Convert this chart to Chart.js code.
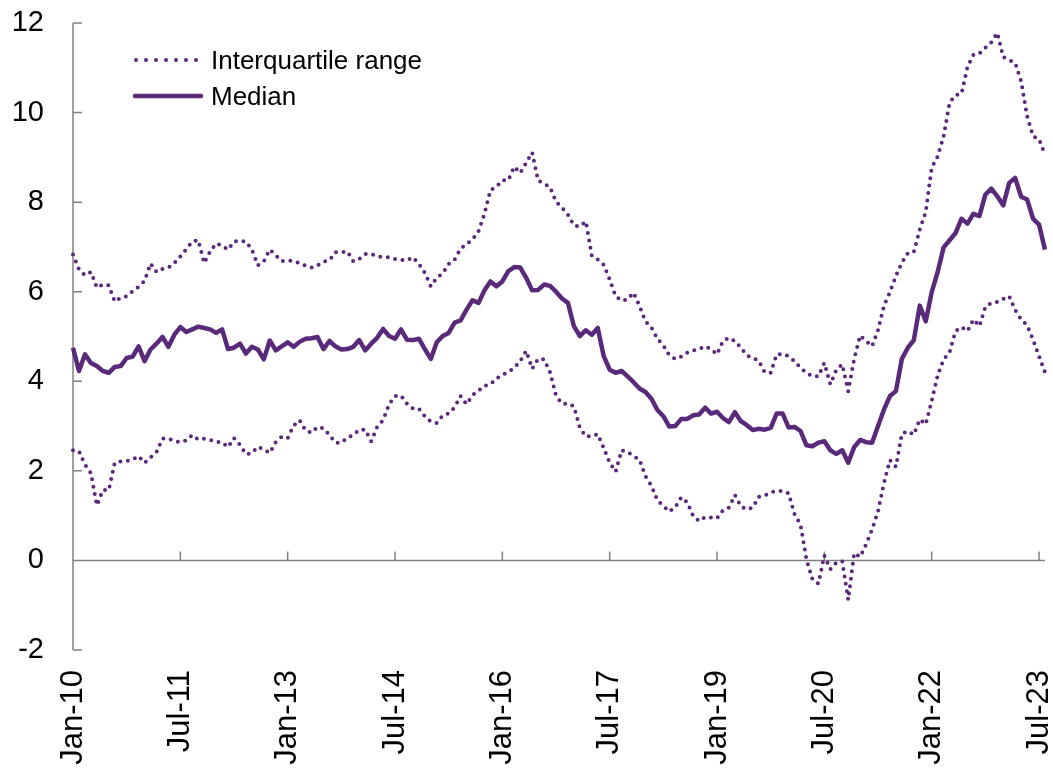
<!DOCTYPE html>
<html>
<head>
<meta charset="utf-8">
<script src="https://cdn.jsdelivr.net/npm/chart.js@4.4.0/dist/chart.umd.min.js"></script>
<style>
  html, body { margin: 0; padding: 0; background: #fff; }
  #wrap { position: relative; width: 1053px; height: 768px; }
  .legend-item {
    position: absolute; left: 133px; height: 36px;
    display: flex; align-items: center;
    font-family: 'Liberation Sans', Arial, sans-serif; font-size: 26px; color: #000;
  }
  .legend-item svg { width: 70px; height: 10px; margin-right: 8px; }
</style>
</head>
<body>
<div id="wrap">
  <canvas id="grafico" width="1053" height="768"></canvas>
  <div class="legend-item" style="top:42px">
    <svg viewBox="0 0 70 10"><line x1="3" y1="5" x2="64" y2="5" stroke="#5a2a7a" stroke-width="4" stroke-linecap="round" stroke-dasharray="0 10"/></svg>
    <span>Interquartile range</span>
  </div>
  <div class="legend-item" style="top:78px">
    <svg viewBox="0 0 70 10"><line x1="2" y1="5" x2="68" y2="5" stroke="#5a2a7a" stroke-width="4.5" stroke-linecap="round"/></svg>
    <span>Median</span>
  </div>
</div>
<script>
// meses de Jan-10 a Aug-23
const nomesMeses = ['Jan', 'Feb', 'Mar', 'Apr', 'May', 'Jun', 'Jul', 'Aug', 'Sep', 'Oct', 'Nov', 'Dec'];
const anos = ['10', '11', '12', '13', '14', '15', '16', '17', '18', '19', '20', '21', '22', '23'];
const meses = [];
anos.forEach(a => nomesMeses.forEach(m => meses.push(m + '-' + a)));
meses.length = 164;

const yTicks = [-2, 0, 2, 4, 6, 8, 10, 12];

const quartilSuperior = [
  6.83, 6.50, 6.37, 6.44, 6.09, 6.16, 6.14, 5.78, 5.86, 5.90, 6.01, 6.11, 6.24, 6.63, 6.44, 6.51, 6.54, 6.64, 6.79, 6.95,
  7.12, 7.15, 6.64, 6.90, 7.08, 7.03, 6.94, 7.12, 7.14, 7.12, 6.94, 6.59, 6.68, 6.94, 6.81, 6.68, 6.70, 6.68, 6.64, 6.58,
  6.54, 6.59, 6.67, 6.70, 6.88, 6.88, 6.90, 6.68, 6.73, 6.84, 6.84, 6.79, 6.77, 6.77, 6.73, 6.71, 6.70, 6.77, 6.62, 6.42,
  6.12, 6.31, 6.41, 6.62, 6.72, 6.96, 7.06, 7.17, 7.35, 7.74, 8.27, 8.34, 8.49, 8.49, 8.79, 8.65, 8.88, 9.11, 8.48, 8.42,
  8.33, 8.01, 7.88, 7.72, 7.48, 7.46, 7.57, 6.81, 6.72, 6.60, 6.27, 5.90, 5.80, 5.83, 5.98, 5.68, 5.34, 5.20, 4.95, 4.80,
  4.58, 4.50, 4.55, 4.64, 4.69, 4.72, 4.78, 4.72, 4.60, 4.90, 4.97, 4.90, 4.75, 4.58, 4.52, 4.46, 4.20, 4.19, 4.60, 4.61,
  4.56, 4.45, 4.30, 4.19, 4.11, 4.11, 4.41, 3.93, 4.25, 4.38, 3.78, 4.50, 5.02, 4.90, 4.78, 5.14, 5.69, 5.99, 6.35, 6.65,
  6.86, 6.89, 7.39, 7.78, 8.77, 9.02, 9.47, 10.22, 10.39, 10.42, 11.02, 11.29, 11.32, 11.45, 11.57, 11.78, 11.24, 11.17, 11.11, 10.70,
  9.92, 9.47, 9.41, 9.06
];

const mediana = [
  4.75, 4.23, 4.60, 4.41, 4.34, 4.23, 4.19, 4.32, 4.34, 4.52, 4.55, 4.78, 4.45, 4.71, 4.84, 4.99, 4.77, 5.04, 5.21, 5.10,
  5.16, 5.22, 5.19, 5.16, 5.08, 5.16, 4.72, 4.75, 4.84, 4.62, 4.77, 4.71, 4.49, 4.91, 4.69, 4.78, 4.87, 4.77, 4.88, 4.95,
  4.96, 4.99, 4.72, 4.90, 4.78, 4.71, 4.72, 4.77, 4.92, 4.69, 4.84, 4.97, 5.17, 5.01, 4.95, 5.16, 4.93, 4.92, 4.95, 4.72,
  4.50, 4.87, 5.01, 5.08, 5.31, 5.36, 5.60, 5.81, 5.75, 6.03, 6.23, 6.12, 6.23, 6.46, 6.55, 6.54, 6.31, 6.03, 6.04, 6.16,
  6.13, 6.00, 5.85, 5.75, 5.23, 5.01, 5.14, 5.04, 5.19, 4.56, 4.26, 4.19, 4.23, 4.11, 3.98, 3.84, 3.76, 3.61, 3.36, 3.22,
  2.99, 3.00, 3.16, 3.16, 3.24, 3.26, 3.41, 3.28, 3.32, 3.18, 3.09, 3.31, 3.11, 3.02, 2.91, 2.94, 2.92, 2.96, 3.28, 3.28,
  2.97, 2.98, 2.89, 2.57, 2.55, 2.63, 2.66, 2.46, 2.38, 2.46, 2.18, 2.53, 2.69, 2.64, 2.63, 3.00, 3.37, 3.67, 3.78, 4.50,
  4.75, 4.92, 5.69, 5.34, 5.99, 6.44, 6.99, 7.15, 7.31, 7.63, 7.52, 7.74, 7.69, 8.17, 8.30, 8.13, 7.93, 8.43, 8.54, 8.12,
  8.06, 7.63, 7.50, 6.94
];

const quartilInferior = [
  2.46, 2.44, 2.14, 1.95, 1.23, 1.57, 1.57, 2.18, 2.21, 2.22, 2.25, 2.33, 2.18, 2.30, 2.42, 2.72, 2.72, 2.67, 2.64, 2.68,
  2.80, 2.70, 2.72, 2.69, 2.65, 2.64, 2.53, 2.73, 2.58, 2.37, 2.40, 2.54, 2.48, 2.40, 2.64, 2.76, 2.73, 3.01, 3.13, 2.90,
  2.85, 2.98, 2.95, 2.80, 2.63, 2.63, 2.74, 2.80, 2.92, 2.92, 2.66, 2.98, 3.13, 3.48, 3.67, 3.68, 3.50, 3.39, 3.39, 3.22,
  3.10, 3.07, 3.24, 3.28, 3.42, 3.67, 3.49, 3.69, 3.79, 3.90, 3.93, 4.06, 4.14, 4.21, 4.30, 4.45, 4.68, 4.28, 4.50, 4.49,
  4.20, 3.68, 3.50, 3.50, 3.44, 2.96, 2.77, 2.77, 2.82, 2.51, 2.18, 1.98, 2.46, 2.42, 2.33, 2.25, 1.88, 1.67, 1.34, 1.22,
  1.09, 1.19, 1.41, 1.30, 0.99, 0.88, 0.97, 0.96, 0.94, 1.12, 1.18, 1.46, 1.21, 1.14, 1.18, 1.42, 1.45, 1.52, 1.55, 1.55,
  1.50, 1.03, 0.80, 0.02, -0.42, -0.52, 0.11, -0.20, -0.05, -0.02, -0.88, 0.16, 0.08, 0.36, 0.69, 1.10, 1.73, 2.24, 2.09, 2.83,
  2.89, 2.81, 3.15, 3.04, 3.56, 4.13, 4.49, 4.65, 5.12, 5.21, 5.12, 5.38, 5.23, 5.66, 5.75, 5.77, 5.84, 5.90, 5.59, 5.38,
  5.25, 4.93, 4.56, 4.20
];

const roxo = '#5a2a7a';
const corEixo = '#808080';
const fonte = "'Liberation Sans', Arial, sans-serif";

// eixo vertical com ticks para dentro e linha do zero com ticks para cima
const eixos = {
  id: 'eixos',
  beforeDatasetsDraw(chart) {
    const { ctx, chartArea, scales: { x, y } } = chart;
    const y0 = y.getPixelForValue(0);
    ctx.save();
    ctx.strokeStyle = corEixo;
    ctx.lineWidth = 1.5;
    ctx.beginPath();
    ctx.moveTo(chartArea.left, y.getPixelForValue(12));
    ctx.lineTo(chartArea.left, y.getPixelForValue(-2));
    yTicks.forEach(v => {
      const py = y.getPixelForValue(v);
      ctx.moveTo(chartArea.left, py);
      ctx.lineTo(chartArea.left + 9, py);
    });
    ctx.moveTo(chartArea.left, y0);
    ctx.lineTo(chartArea.right, y0);
    meses.forEach((m, i) => {
      if (i % 18 === 0) {
        const px = x.getPixelForValue(i);
        ctx.moveTo(px, y0);
        ctx.lineTo(px, y0 - 9);
      }
    });
    ctx.stroke();
    ctx.restore();
  }
};

const ctx = document.getElementById('grafico').getContext('2d');
window.chart = new Chart(ctx, {
  type: 'line',
  data: {
    labels: meses,
    datasets: [
      {
        label: 'Interquartile range',
        data: quartilSuperior,
        borderColor: roxo,
        borderWidth: 4,
        borderDash: [0, 7.5],
        borderCapStyle: 'round',
        pointRadius: 0,
        fill: false,
      },
      {
        label: 'Median',
        data: mediana,
        borderColor: roxo,
        borderWidth: 4.5,
        borderJoinStyle: 'round',
        pointRadius: 0,
        fill: false,
      },
      {
        label: 'Interquartile range (lower)',
        data: quartilInferior,
        borderColor: roxo,
        borderWidth: 4,
        borderDash: [0, 7.5],
        borderCapStyle: 'round',
        pointRadius: 0,
        fill: false,
      }
    ]
  },
  options: {
    responsive: false,
    animation: false,
    devicePixelRatio: 1,
    layout: { padding: { top: 23, right: 8, left: 0, bottom: 0 } },
    plugins: {
      legend: { display: false },
      tooltip: { enabled: false }
    },
    scales: {
      x: {
        offset: false,
        grid: { display: false, drawTicks: false },
        border: { display: false },
        ticks: {
          autoSkip: false,
          minRotation: 90,
          maxRotation: 90,
          padding: 20,
          color: '#000',
          font: { family: fonte, size: 31 },
          callback: (v, i) => (i % 18 === 0 ? meses[i] : null)
        },
        afterFit(s) { s.height = 118; s.paddingLeft = 0; s.paddingRight = 0; }
      },
      y: {
        min: -2,
        max: 12,
        grid: { display: false, drawTicks: false },
        border: { display: false },
        ticks: {
          stepSize: 2,
          padding: 29,
          color: '#000',
          font: { family: fonte, size: 29 }
        },
        afterFit(s) { s.width = 73; s.paddingTop = 0; s.paddingBottom = 0; }
      }
    }
  },
  plugins: [eixos]
});
</script>
</body>
</html>
